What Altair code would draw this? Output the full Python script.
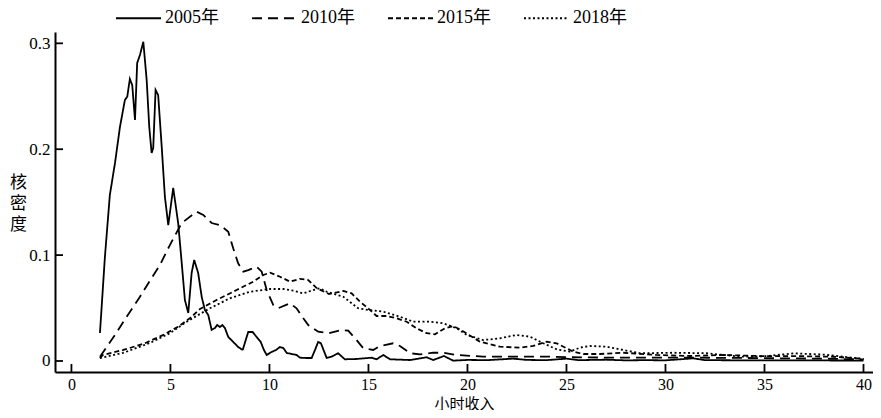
import altair as alt
import pandas as pd

years = ["2005年", "2010年", "2015年", "2018年"]

x2005 = [1.44, 1.69, 1.94, 2.20, 2.45, 2.70, 2.82, 2.95, 3.07, 3.21, 3.32, 3.46, 3.63, 3.80, 3.93,
         4.05, 4.13, 4.25, 4.38, 4.56, 4.72, 4.89, 5.14, 5.39, 5.57, 5.73, 5.90, 6.07, 6.20, 6.40,
         6.58, 6.74, 6.91, 7.08, 7.25, 7.36, 7.50, 7.62, 7.75, 7.92, 8.17, 8.42, 8.65, 8.85, 8.93,
         9.15, 9.35, 9.56, 9.72, 9.86, 10.11, 10.33, 10.53, 10.70, 10.87, 11.12, 11.37, 11.54, 11.88,
         12.13, 12.30, 12.46, 12.60, 12.89, 13.14, 13.47, 13.81, 14.40, 15.16, 15.41, 15.75, 16.09,
         17.10, 17.94, 18.27, 18.81, 19.28, 20.0, 21.0, 22.3, 23.0, 24.0, 25.0, 25.6, 27.0, 28.0,
         29.0, 30.0, 31.4, 32.0, 34.0, 36.0, 38.0, 40.0]
y2005 = [0.0264, 0.0982, 0.1568, 0.187, 0.221, 0.2465, 0.2496, 0.2663, 0.2606, 0.2276, 0.2814,
         0.289, 0.3015, 0.2653, 0.221, 0.1964, 0.2011, 0.2559, 0.2512, 0.2021, 0.1549, 0.1284,
         0.1634, 0.1303, 0.0925, 0.0576, 0.0453, 0.0831, 0.0954, 0.0831, 0.0604, 0.0482, 0.0434,
         0.0293, 0.0312, 0.034, 0.0321, 0.034, 0.0312, 0.0227, 0.018, 0.0132, 0.0104, 0.0227,
         0.0274, 0.0274, 0.0227, 0.018, 0.0104, 0.0057, 0.0085, 0.0104, 0.0132, 0.0123, 0.0076,
         0.0066, 0.0057, 0.0031, 0.0028, 0.0028, 0.0104, 0.018, 0.0167, 0.0028, 0.0041, 0.0073,
         0.0016, 0.0019, 0.0031, 0.0016, 0.0057, 0.0016, 0.0009, 0.0035, 0.0009, 0.0047, 0.0003,
         0.001, 0.0008, 0.0022, 0.001, 0.0008, 0.0022, 0.0008, 0.0012, 0.0006, 0.0008, 0.0006,
         0.0025, 0.0008, 0.0006, 0.0005, 0.0005, 0.0004]

x2010 = [1.44, 2.20, 2.79, 3.46, 4.05, 4.47, 4.97, 5.57, 6.32, 6.66, 7.08, 7.50, 7.92, 8.17, 8.42,
         8.68, 8.93, 9.35, 9.61, 9.86, 10.19, 10.44, 11.03, 11.37, 11.71, 11.96, 12.46, 12.97, 13.65,
         13.98, 14.40, 14.74, 15.24, 15.58, 16.25, 16.59, 17.10, 17.60, 18.27, 18.78, 19.45, 20.78,
         22.0, 24.0, 25.0, 27.0, 30.0, 33.0, 36.0, 38.0, 40.0]
y2010 = [0.0041, 0.0246, 0.0418, 0.0607, 0.0784, 0.0907, 0.1095, 0.1303, 0.141, 0.1379, 0.1303,
         0.1284, 0.1221, 0.1064, 0.0923, 0.0843, 0.0859, 0.089, 0.0843, 0.067, 0.0529, 0.0498,
         0.0545, 0.0498, 0.0403, 0.034, 0.0277, 0.0262, 0.0293, 0.0286, 0.0198, 0.012, 0.0104,
         0.0142, 0.0167, 0.0142, 0.0073, 0.0063, 0.0078, 0.0078, 0.0057, 0.0041, 0.0042, 0.0042,
         0.0036, 0.0032, 0.0032, 0.003, 0.0025, 0.0022, 0.0015]

x2015 = [1.44, 1.59, 2.62, 3.71, 4.64, 5.39, 5.98, 6.49, 7.33, 8.34, 9.18, 9.69, 10.03, 10.53,
         11.04, 11.54, 11.96, 12.40, 13.01, 13.73, 14.15, 14.57, 15.08, 15.41, 15.92, 16.42, 16.93,
         17.43, 17.94, 18.36, 18.86, 19.28, 19.67, 20.63, 21.64, 22.65, 23.32, 24.0, 24.5, 25.01,
         25.34, 25.85, 26.69, 27.87, 29.55, 31.24, 32.92, 35.0, 37.0, 38.5, 40.0]
y2015 = [0.0028, 0.0057, 0.0104, 0.0167, 0.0246, 0.0324, 0.0403, 0.0491, 0.0576, 0.067, 0.0749,
         0.0812, 0.0834, 0.0796, 0.0749, 0.0776, 0.0765, 0.0686, 0.0633, 0.0661, 0.0639, 0.056,
         0.0482, 0.0425, 0.0425, 0.0403, 0.0371, 0.0309, 0.0262, 0.0252, 0.0309, 0.033, 0.0293,
         0.0182, 0.0135, 0.0126, 0.0142, 0.0182, 0.0167, 0.012, 0.0088, 0.0066, 0.0066, 0.0078,
         0.0057, 0.0047, 0.0057, 0.0045, 0.0045, 0.004, 0.002]

x2018 = [1.44, 2.60, 3.96, 4.97, 5.82, 6.99, 8.0, 9.01, 10.03, 10.70, 11.20, 11.71, 12.21, 12.55,
         12.89, 13.73, 14.48, 14.99, 15.75, 16.59, 17.26, 18.11, 18.78, 19.45, 19.96, 20.80, 21.64,
         22.48, 23.16, 23.83, 24.51, 25.18, 25.68, 26.19, 27.03, 27.87, 28.71, 30.39, 32.08, 33.76,
         35.0, 36.5, 38.0, 39.0, 40.0]
y2018 = [0.0028, 0.0076, 0.017, 0.0262, 0.0371, 0.0498, 0.0592, 0.0654, 0.068, 0.068, 0.0664,
         0.0639, 0.067, 0.0686, 0.0654, 0.0607, 0.0498, 0.0482, 0.0466, 0.0418, 0.0371, 0.0371,
         0.0356, 0.0309, 0.0246, 0.0198, 0.0214, 0.0246, 0.0229, 0.0167, 0.011, 0.0088, 0.0126,
         0.0142, 0.0135, 0.0104, 0.0073, 0.0078, 0.0073, 0.0041, 0.0045, 0.0072, 0.006, 0.004, 0.002]

x_ticks = [0, 5, 10, 15, 20, 25, 30, 35, 40]
y_ticks = [0, 0.1, 0.2, 0.3]

rows = []
for name, xs, ys in zip(years, [x2005, x2010, x2015, x2018], [y2005, y2010, y2015, y2018]):
    for xv, yv in zip(xs, ys):
        rows.append({"year": name, "x": xv, "y": yv})
df = pd.DataFrame(rows)

FONT = "Liberation Serif, Noto Sans CJK SC"

xenc = alt.X("x:Q",
             scale=alt.Scale(domain=[-0.83, 40.48], nice=False, zero=False),
             axis=alt.Axis(values=x_ticks, title="小时收入", labelPadding=4, labelFontSize=16,
                           titleY=36, titleBaseline="alphabetic", titleFontSize=15))
yenc = alt.Y("y:Q",
             scale=alt.Scale(domain=[-0.0104, 0.3107], nice=False, zero=False),
             axis=alt.Axis(values=y_ticks, title=["核", "密", "度"], labelPadding=5,
                           labelExpr="datum.value == 0 ? '0' : format(datum.value, '.1f')",
                           titleAngle=0, titleAlign="center", titleBaseline="top",
                           titleX=-37, titleY=142, titleLineHeight=21, titleFontSize=17))

lines = alt.Chart(df).mark_line(strokeWidth=1.8, color="black").encode(
    x=xenc, y=yenc,
    strokeDash=alt.StrokeDash("year:N",
                              scale=alt.Scale(domain=years,
                                              range=[[1, 0], [10, 6], [5, 3], [2, 2.5]]),
                              legend=alt.Legend(orient="none", legendX=60, legendY=-37.5,
                                                direction="horizontal", columns=4,
                                                symbolType="stroke", symbolSize=2025,
                                                symbolStrokeWidth=1.8, symbolStrokeColor="black",
                                                labelFontSize=18, labelFont=FONT,
                                                labelColor="black", labelOffset=3,
                                                columnPadding=29, title=None)),
)

xt = alt.Chart(pd.DataFrame({"x": x_ticks})).mark_rule(color="black", strokeWidth=1.8).encode(
    x=xenc, y=alt.value(340), y2=alt.value(332))
yt = alt.Chart(pd.DataFrame({"y": y_ticks})).mark_rule(color="black", strokeWidth=1.8).encode(
    y=yenc, x=alt.value(0), x2=alt.value(8))

chart = alt.layer(lines, xt, yt).properties(
    width=818, height=340,
    autosize=alt.AutoSizeParams(type="none"),
    padding={"left": 47, "top": 24, "right": 0, "bottom": 38},
).configure_view(stroke=None).configure_axis(
    grid=False, ticks=False, tickSize=0, domainColor="black", domainWidth=2,
    labelFont=FONT, labelFontSize=17, labelColor="black",
    titleFont=FONT, titleColor="black", titleFontWeight="normal",
)

chart.save("out.html", embed_options={"renderer": "svg", "actions": False})
